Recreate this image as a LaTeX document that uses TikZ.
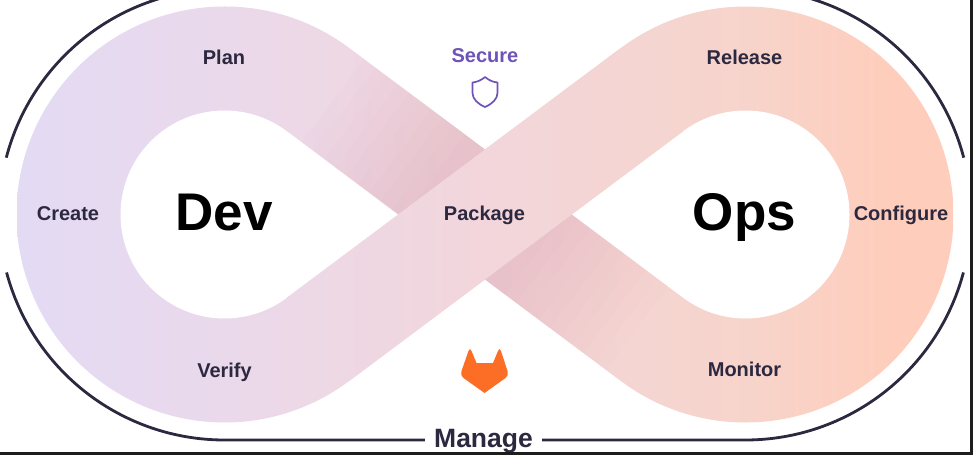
\documentclass[tikz,border=0pt]{standalone}
\usepackage{fontspec}
\setmainfont{Liberation Sans}
\usetikzlibrary{calc}
\definecolor{inkc}{HTML}{2B2840}
\definecolor{purp}{HTML}{6F53B8}
\definecolor{foxc}{HTML}{FC6D26}
\definecolor{barc}{HTML}{1E1E1E}
\definecolor{g0}{HTML}{E3DAF4}
\definecolor{g1}{HTML}{EAD9EB}
\definecolor{g2}{HTML}{F2D6DB}
\definecolor{g3}{HTML}{F7D4CB}
\definecolor{g4}{HTML}{FFCDBB}
\definecolor{bandtint}{HTML}{DFA8B8}
% a path's box covers the middle 25bp..75bp of a declared shading
\pgfdeclarehorizontalshading{wholeshade}{100bp}{color(0bp)=(g0); color(25bp)=(g0); color(36bp)=(g1); color(50bp)=(g2); color(64bp)=(g3); color(72bp)=(g4); color(100bp)=(g4)}
\tikzset{
  lab/.style={font=\bfseries\fontsize{20}{24}\selectfont, text=inkc, inner sep=0pt, anchor=base},
  big/.style={font=\bfseries\fontsize{53}{60}\selectfont, text=black, inner sep=0pt, anchor=base},
  frameline/.style={draw=inkc, line width=2.8pt},
}
\def\ang{53.13}
\def\ROut{208}
\def\RIn{104}
\def\RFr{225.5}
\begin{document}
\begin{tikzpicture}[x=1pt,y=1pt]
\useasboundingbox (0,0) rectangle (973,455);
\fill[white] (0,0) rectangle (973,455);
\coordinate (L) at (224.5,240.5);
\coordinate (R) at (745.5,240.5);
\coordinate (C) at (485,240.5);
\coordinate (T) at (485,305.5);
\coordinate (B) at (485,175.5);
\coordinate (XL) at (398.3,240.5);
\coordinate (XR) at (571.7,240.5);
\coordinate (fb) at ($(L)+(0,-\RFr pt)$);
% whole ribbon
\begin{scope}
  \clip (T) -- ($(L)+(\ang:\ROut pt)$) arc[start angle=\ang, end angle=360-\ang, radius=\ROut pt]
  -- (B) -- ($(R)+(180+\ang:\ROut pt)$) arc[start angle=180+\ang, end angle=540-\ang, radius=\ROut pt] -- cycle;
  \shade[shading=wholeshade] (17,0) rectangle (953,455);
\end{scope}
% the two holes
\fill[white] (XL) -- ($(L)+(\ang:\RIn pt)$) arc[start angle=\ang, end angle=360-\ang, radius=\RIn pt] -- cycle;
\fill[white] (XR) -- ($(R)+(180+\ang:\RIn pt)$) arc[start angle=180+\ang, end angle=540-\ang, radius=\RIn pt] -- cycle;
% falling band, darker towards the crossing: nested faint layers
\begin{scope}
  \clip ($(L)+(\ang:\ROut pt)$) -- ($(L)+(\ang:\RIn pt)$) -- ($(R)+(180+\ang:\ROut pt)$) -- ($(R)+(180+\ang:\RIn pt)$) -- cycle;
  \foreach \d in {64,78,...,190} {
    \fill[bandtint, fill opacity=0.045, shift={(C)}, rotate=-36.87] (-\d,-60) rectangle (\d,60);
  }
\end{scope}
% rising band on top
\begin{scope}
  \clip ($(L)+(-\ang:\ROut pt)$) -- ($(L)+(-\ang:\RIn pt)$) -- ($(R)+(180-\ang:\ROut pt)$) -- ($(R)+(180-\ang:\RIn pt)$) -- cycle;
  \shade[shading=wholeshade] (17,0) rectangle (953,455);
\end{scope}
% labels
\node[lab] (plan) at (224,390) {Plan};
\node[lab] (create) at (68,234) {Create};
\node[lab] (verify) at (224.5,78) {Verify};
\node[lab] (package) at (484.5,234) {Package};
\node[lab] (release) at (744.5,390) {Release};
\node[lab] (configure) at (901,234) {Configure};
\node[lab] (monitor) at (744.5,78.5) {Monitor};
\node[lab, text=purp] (secure) at (485,392.5) {Secure};
\node[big] (dev) at (224,224) {Dev};
\node[big] (ops) at (744.5,224) {Ops};
\node[font=\bfseries\fontsize{26.5}{30}\selectfont, text=inkc, inner sep=0pt, minimum width=117pt, anchor=base] (manage) at (483.5,8) {Manage};
% outer frame
\begin{scope}
  \clip (0,0) rectangle (973,455);
  \draw[frameline] ($(L)+(165.4:\RFr pt)$) arc[start angle=165.4, end angle=90, radius=\RFr pt];
  \draw[frameline] ($(R)+(14.6:\RFr pt)$) arc[start angle=14.6, end angle=90, radius=\RFr pt];
  \draw[frameline] ($(L)+(194.9:\RFr pt)$) arc[start angle=194.9, end angle=270, radius=\RFr pt] -- (manage.west |- fb);
  \draw[frameline] ($(R)+(-14.9:\RFr pt)$) arc[start angle=-14.9, end angle=-90, radius=\RFr pt] -- (manage.east |- fb);
\end{scope}
% shield
\draw[purp, line width=1.7pt, line join=round] (485,378) .. controls (489,374.5) and (493,373) .. (497.5,372.5)
  -- (497.5,362) .. controls (497.5,356) and (492,351) .. (485,348)
  .. controls (478,351) and (472.5,356) .. (472.5,362) -- (472.5,372.5)
  .. controls (477,373) and (481,374.5) .. (485,378) -- cycle;
% fox
\fill[foxc] (484.5,62) -- (463.5,77) .. controls (461.5,78.5) and (460.5,81) .. (461.5,84)
  -- (468.5,104) .. controls (469.5,106.5) and (470.5,106.5) .. (471.5,104)
  -- (476.5,92) -- (493,92) -- (498,104) .. controls (499,106.5) and (500,106.5) .. (501,104)
  -- (507.5,84) .. controls (508.5,81) and (507.5,78.5) .. (505.5,77) -- cycle;
% window edges
\fill[barc] (0,0) rectangle (973,3.3);
\fill[barc] (969.7,0) rectangle (973,455);
\end{tikzpicture}
\end{document}
